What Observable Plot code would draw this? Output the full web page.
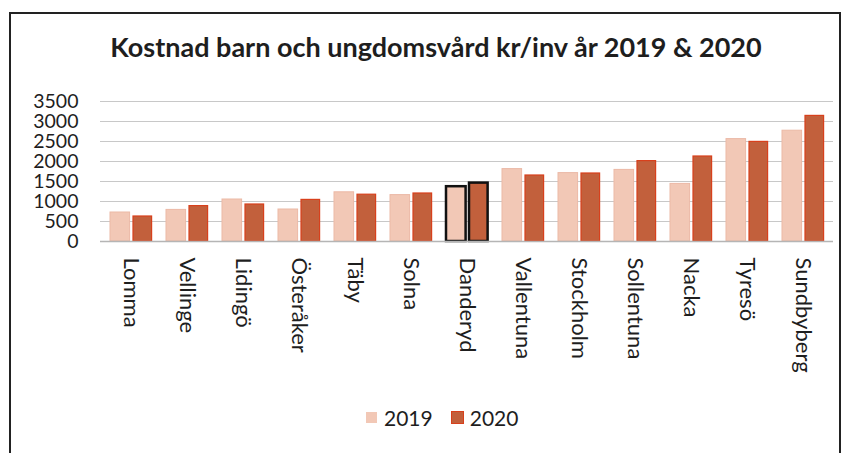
<!DOCTYPE html>
<html>
<head>
<meta charset="utf-8">
<script src="https://cdn.jsdelivr.net/npm/d3@7"></script>
<script src="https://cdn.jsdelivr.net/npm/@observablehq/plot@0.6"></script>
<style>
  html, body { margin: 0; padding: 0; background: #fff; }
  #wrap { position: relative; width: 843px; height: 453px; overflow: hidden; font-family: Lato, "Noto Sans", sans-serif; color: #1e1e1e; }
  #frame { position: absolute; left: 9px; top: 12px; width: 832px; height: 470px; border: 2px solid #222; box-sizing: border-box; }
  #title { position: absolute; left: 36px; width: 800px; top: 30px; text-align: center; font-size: 27px; font-weight: 700; white-space: nowrap; }
  #chart { position: absolute; left: 0; top: 85px; }
  #legend { position: absolute; top: 405px; left: 366px; display: flex; align-items: center; font-size: 21px; }
  .sw { display: inline-block; width: 11px; height: 11px; margin-right: 7px; }
  .item { display: flex; align-items: center; margin-right: 19px; }
</style>
</head>
<body>
<div id="wrap">
  <div id="frame"></div>
  <div id="title">Kostnad barn och ungdomsvård kr/inv år 2019 &amp; 2020</div>
  <div id="chart"></div>
  <div id="legend"></div>
</div>
<script>
const municipalities = ["Lomma","Vellinge","Lidingö","Österåker","Täby","Solna","Danderyd","Vallentuna","Stockholm","Sollentuna","Nacka","Tyresö","Sundbyberg"];
const values2019 = [725, 790, 1050, 800, 1230, 1160, 1370, 1810, 1710, 1790, 1440, 2560, 2770];
const values2020 = [625, 885, 925, 1040, 1170, 1200, 1460, 1650, 1700, 2010, 2125, 2490, 3140];
const yTicks = [0, 500, 1000, 1500, 2000, 2500, 3000, 3500];
const years = ["2019", "2020"];
const colors = ["#f2c8b6", "#c2603c"];
const highlighted = ["Danderyd"];

const data = municipalities.map((m, i) => ({m, v19: values2019[i], v20: values2020[i]}));
const hl = data.filter(d => highlighted.includes(d.m));

const chart = Plot.plot({
  width: 843,
  height: 320,
  marginTop: 16,
  marginBottom: 164,
  marginLeft: 100,
  marginRight: 10,
  style: {background: "transparent", fontFamily: "Lato, 'Noto Sans', sans-serif", color: "#1e1e1e"},
  x: {domain: municipalities, padding: 0, label: null},
  y: {domain: [0, 3500], label: null},
  marks: [
    Plot.gridY(yTicks, {stroke: "#c8c8c8", strokeOpacity: 1}),
    Plot.barY(data, {x: "m", y: "v19", fill: colors[0], stroke: "#ebb9a6", strokeWidth: 1, insetLeft: 7, insetRight: 29.4}),
    Plot.barY(data, {x: "m", y: "v20", fill: colors[1], stroke: "#d8401c", strokeWidth: 1.2, insetLeft: 30, insetRight: 7.4}),
    Plot.barY(hl, {x: "m", y: "v19", fill: "none", stroke: "#111", strokeWidth: 2.5, insetLeft: 7, insetRight: 29.4}),
    Plot.barY(hl, {x: "m", y: "v20", fill: "none", stroke: "#111", strokeWidth: 2.5, insetLeft: 30, insetRight: 7.4}),
    Plot.ruleY([0], {stroke: "#b5b5b5", strokeWidth: 1.5}),
    Plot.axisY(yTicks, {tickSize: 0, tickPadding: 22, fontSize: 19.5, tickFormat: d => String(d), label: null}),
    Plot.axisX({tickSize: 0, tickRotate: 90, tickPadding: 16, fontSize: 22, label: null})
  ]
});
document.getElementById("chart").appendChild(chart);

const legend = document.getElementById("legend");
years.forEach((y, i) => {
  const item = document.createElement("div");
  item.className = "item";
  const sw = document.createElement("span");
  sw.className = "sw";
  sw.style.background = colors[i];
  if (i === 1) sw.style.outline = "1px solid #d8401c";
  item.appendChild(sw);
  item.appendChild(document.createTextNode(y));
  legend.appendChild(item);
});
</script>
</body>
</html>
